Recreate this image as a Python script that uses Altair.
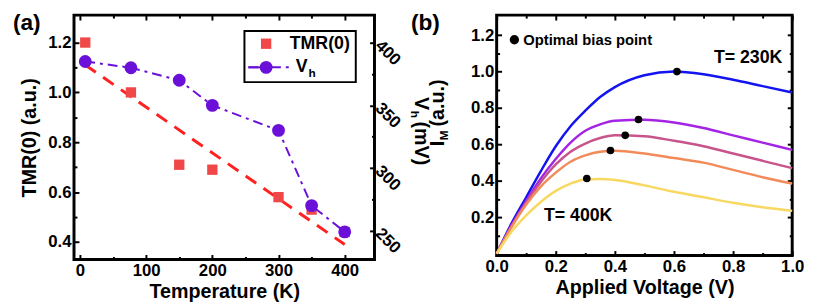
import altair as alt
import pandas as pd

FONT = "Liberation Sans"

# ---------- Panel (a) data ----------
temps = [8, 77, 150, 200, 300, 350, 400]
tmr = [1.20, 1.00, 0.71, 0.69, 0.58, 0.53, 0.44]
vh = [385, 380, 370, 350, 330, 270, 249]
fit_t = [8, 400]
fit_tmr = [1.11, 0.39]

# ---------- Panel (b) data ----------
volts = [0, 0.05, 0.1, 0.15, 0.2, 0.25, 0.3, 0.35, 0.4, 0.5, 0.6, 0.7, 0.8, 0.9, 1.0]
curve_names = ["230K", "c2", "c3", "c4", "400K"]
curve_colors = ["#1414f0", "#a424e6", "#c8548c", "#f28a5a", "#f8d862"]
curve_vals = [
    [0, 0.165, 0.31, 0.455, 0.59, 0.70, 0.785, 0.86, 0.915, 0.98, 1.0, 0.985, 0.955, 0.92, 0.885],
    [0, 0.155, 0.29, 0.415, 0.52, 0.61, 0.675, 0.71, 0.73, 0.735, 0.72, 0.69, 0.65, 0.61, 0.57],
    [0, 0.15, 0.28, 0.395, 0.49, 0.56, 0.605, 0.635, 0.65, 0.645, 0.62, 0.59, 0.55, 0.51, 0.47],
    [0, 0.145, 0.27, 0.37, 0.445, 0.505, 0.54, 0.56, 0.565, 0.55, 0.525, 0.50, 0.46, 0.42, 0.385],
    [0, 0.12, 0.21, 0.285, 0.345, 0.385, 0.408, 0.41, 0.405, 0.375, 0.34, 0.31, 0.28, 0.255, 0.235],
]
opt_v = [0.61, 0.48, 0.435, 0.385, 0.305]
opt_i = [1.0, 0.737, 0.65, 0.567, 0.413]

# tick positions
a_x_major = [0, 100, 200, 300, 400]
a_x_minor = [50, 150, 250, 350]
a_y_major = [0.4, 0.6, 0.8, 1.0, 1.2]
a_y_minor = [0.5, 0.7, 0.9, 1.1]
a_r_major = [250, 300, 350, 400]
a_r_minor = [275, 325, 375]
b_x_major = [0, 0.2, 0.4, 0.6, 0.8, 1.0]
b_x_minor = [0.1, 0.3, 0.5, 0.7, 0.9]
b_y_major = [0.2, 0.4, 0.6, 0.8, 1.0, 1.2]
b_y_minor = [0.1, 0.3, 0.5, 0.7, 0.9, 1.1]

# ---------- frames ----------
df_tmr = pd.DataFrame({"T": temps, "TMR": tmr})
df_vh = pd.DataFrame({"T": temps, "Vh": vh})
df_fit = pd.DataFrame({"T": fit_t, "TMR": fit_tmr})
rows = []
for name, vals in zip(curve_names, curve_vals):
    for v, i in zip(volts, vals):
        rows.append({"V": v, "I": i, "curve": name})
df_curves = pd.DataFrame(rows)
df_opt = pd.DataFrame({"V": opt_v, "I": opt_i})
one = pd.DataFrame({"a": [0]})

W_A, H_A = 305, 248
W_B, H_B = 300, 244
MAJ, MIN = 5, 3

sx_a = alt.Scale(domain=[-9, 445], nice=False, zero=False)
sy_a = alt.Scale(domain=[0.33, 1.31], nice=False, zero=False)
sr_a = alt.Scale(domain=[227, 422], nice=False, zero=False)
sx_b = alt.Scale(domain=[0, 1], nice=False)
sy_b = alt.Scale(domain=[-0.01, 1.31], nice=False, zero=False)


def tick_axis(orient, values, size, labels=False, **kw):
    return alt.Axis(orient=orient, values=values, tickSize=size, offset=-size, labels=labels,
                    domain=False, labelFlush=False, **kw)


def axis_layer(df, xf, xs, yf, ys, channel, axis):
    if channel == "x":
        enc = dict(x=alt.X(xf, scale=xs, axis=axis), y=alt.Y(yf, scale=ys, axis=None))
    else:
        enc = dict(x=alt.X(xf, scale=xs, axis=None), y=alt.Y(yf, scale=ys, axis=axis))
    return alt.Chart(df).mark_point(opacity=0).encode(**enc)


red = "#f04848"
purple = "#6a10d8"

# ---------- Panel (a) ----------
xa = alt.X("T:Q", scale=sx_a, axis=None)
ya = alt.Y("TMR:Q", scale=sy_a, axis=None)
yv = alt.Y("Vh:Q", scale=sr_a, axis=None)

fit_line = alt.Chart(df_fit).mark_line(color="#ff2020", strokeWidth=3, strokeDash=[13, 9]).encode(x=xa, y=ya)
squares = alt.Chart(df_tmr).mark_square(color=red, opacity=1, size=110).encode(x=xa, y=ya)
vh_line = alt.Chart(df_vh).mark_line(color=purple, strokeWidth=2, strokeDash=[10, 5, 3, 5]).encode(x=xa, y=yv)
vh_pts = alt.Chart(df_vh).mark_circle(color=purple, opacity=1, size=170).encode(x=xa, y=yv)

ax_a = [
    axis_layer(df_tmr, "T:Q", sx_a, "TMR:Q", sy_a, "x",
               tick_axis("bottom", a_x_major, MAJ, labels=True, title="Temperature (K)", format="d")),
    axis_layer(df_tmr, "T:Q", sx_a, "TMR:Q", sy_a, "x", tick_axis("bottom", a_x_minor, MIN, title=None)),
    axis_layer(df_tmr, "T:Q", sx_a, "TMR:Q", sy_a, "x", tick_axis("top", a_x_major, MAJ, title=None)),
    axis_layer(df_tmr, "T:Q", sx_a, "TMR:Q", sy_a, "x", tick_axis("top", a_x_minor, MIN, title=None)),
    axis_layer(df_tmr, "T:Q", sx_a, "TMR:Q", sy_a, "y",
               tick_axis("left", a_y_major, MAJ, labels=True, title="TMR(0) (a.u.)", format=".1f",
                         titlePadding=8)),
    axis_layer(df_tmr, "T:Q", sx_a, "TMR:Q", sy_a, "y", tick_axis("left", a_y_minor, MIN, title=None)),
    axis_layer(df_vh, "T:Q", sx_a, "Vh:Q", sr_a, "y",
               tick_axis("right", a_r_major, MAJ, labels=True, title=None, labelAngle=45,
                         labelAlign="left", labelBaseline="middle")),
    axis_layer(df_vh, "T:Q", sx_a, "Vh:Q", sr_a, "y", tick_axis("right", a_r_minor, MIN, title=None)),
]

leg_box = alt.Chart(one).mark_rect(fill="white", stroke="black", strokeWidth=2).encode(
    x=alt.value(173), x2=alt.value(286), y=alt.value(16), y2=alt.value(68))
leg_sq = alt.Chart(one).mark_square(color=red, opacity=1, size=110).encode(x=alt.value(195), y=alt.value(29))
leg_txt1 = alt.Chart(one).mark_text(text="TMR(0)", font=FONT, fontWeight="bold", fontSize=18,
                                    align="left", baseline="middle").encode(x=alt.value(219), y=alt.value(29))
leg_ln = alt.Chart(one).mark_rule(color=purple, strokeWidth=2, strokeDash=[10, 5, 3, 5]).encode(
    x=alt.value(177), x2=alt.value(218), y=alt.value(53))
leg_ln2 = alt.Chart(one).mark_rule(color=purple, strokeWidth=2).encode(
    x=alt.value(177), x2=alt.value(190), y=alt.value(53))
leg_pt = alt.Chart(one).mark_circle(color=purple, opacity=1, size=170).encode(x=alt.value(195), y=alt.value(53))
leg_v = alt.Chart(one).mark_text(text="V", font=FONT, fontWeight="bold", fontSize=18,
                                 align="left", baseline="middle").encode(x=alt.value(225), y=alt.value(53))
leg_h = alt.Chart(one).mark_text(text="h", font=FONT, fontWeight="bold", fontSize=12,
                                 align="left", baseline="middle").encode(x=alt.value(238), y=alt.value(59))
lab_a = alt.Chart(one).mark_text(text="(a)", font=FONT, fontWeight="bold", fontSize=23,
                                 align="left", baseline="middle").encode(x=alt.value(-62), y=alt.value(8))

panel_a = alt.layer(
    fit_line, squares, vh_line, vh_pts, *ax_a,
    leg_box, leg_sq, leg_txt1, leg_ln, leg_ln2, leg_pt, leg_v, leg_h, lab_a
).resolve_scale(y="independent").resolve_axis(x="independent", y="independent").properties(
    width=W_A, height=H_A)

# ---------- Panel (b) ----------
xb = alt.X("V:Q", scale=sx_b, axis=None)
yb = alt.Y("I:Q", scale=sy_b, axis=None)

curves = alt.Chart(df_curves).mark_line(strokeWidth=2.5, interpolate="monotone").encode(
    x=xb, y=yb,
    color=alt.Color("curve:N", scale=alt.Scale(domain=curve_names, range=curve_colors), legend=None),
    order=alt.Order("V:Q"))
opt = alt.Chart(df_opt).mark_circle(color="black", opacity=1, size=60).encode(x=xb, y=yb)

ann = pd.DataFrame({"V": [0.735, 0.16], "I": [1.075, 0.205], "t": ["T= 230K", "T= 400K"]})
ann_txt = alt.Chart(ann).mark_text(font=FONT, fontWeight="bold", fontSize=18, align="left",
                                   baseline="middle").encode(x=xb, y=yb, text="t:N")
legb_pt = alt.Chart(one).mark_circle(color="black", opacity=1, size=90).encode(x=alt.value(18), y=alt.value(25))
legb_txt = alt.Chart(one).mark_text(text="Optimal bias point", font=FONT, fontWeight="bold", fontSize=15,
                                    align="left", baseline="middle").encode(x=alt.value(27), y=alt.value(25))
lab_b = alt.Chart(one).mark_text(text="(b)", font=FONT, fontWeight="bold", fontSize=23,
                                 align="left", baseline="middle").encode(x=alt.value(-87), y=alt.value(8))

ax_b = [
    axis_layer(df_opt, "V:Q", sx_b, "I:Q", sy_b, "x",
               tick_axis("bottom", b_x_major, MAJ, labels=True, title="Applied Voltage (V)", format=".1f")),
    axis_layer(df_opt, "V:Q", sx_b, "I:Q", sy_b, "x", tick_axis("bottom", b_x_minor, MIN, title=None)),
    axis_layer(df_opt, "V:Q", sx_b, "I:Q", sy_b, "x", tick_axis("top", b_x_major, MAJ, title=None)),
    axis_layer(df_opt, "V:Q", sx_b, "I:Q", sy_b, "x", tick_axis("top", b_x_minor, MIN, title=None)),
    axis_layer(df_opt, "V:Q", sx_b, "I:Q", sy_b, "y",
               tick_axis("left", b_y_major, MAJ, labels=True, title=None, format=".1f")),
    axis_layer(df_opt, "V:Q", sx_b, "I:Q", sy_b, "y", tick_axis("left", b_y_minor, MIN, title=None)),
    axis_layer(df_opt, "V:Q", sx_b, "I:Q", sy_b, "y", tick_axis("right", b_y_major, MAJ, title=None)),
    axis_layer(df_opt, "V:Q", sx_b, "I:Q", sy_b, "y", tick_axis("right", b_y_minor, MIN, title=None)),
]

# y-axis title I_M (a.u.) built from pieces (rotated)
t_I = alt.Chart(one).mark_text(text="I", font=FONT, fontWeight="bold", fontSize=20, angle=270,
                               align="left", baseline="middle").encode(x=alt.value(-59), y=alt.value(133))
t_M = alt.Chart(one).mark_text(text="M", font=FONT, fontWeight="bold", fontSize=12, angle=270,
                               align="left", baseline="middle").encode(x=alt.value(-53), y=alt.value(127))
t_au = alt.Chart(one).mark_text(text="(a.u.)", font=FONT, fontWeight="bold", fontSize=20, angle=270,
                                align="left", baseline="middle").encode(x=alt.value(-59), y=alt.value(113))
# overlapping V_h (mV) text (rotated the other way)
t_V = alt.Chart(one).mark_text(text="V", font=FONT, fontWeight="bold", fontSize=20, angle=90,
                               align="left", baseline="middle").encode(x=alt.value(-77), y=alt.value(83))
t_h = alt.Chart(one).mark_text(text="h", font=FONT, fontWeight="bold", fontSize=12, angle=90,
                               align="left", baseline="middle").encode(x=alt.value(-83), y=alt.value(97))
t_mV = alt.Chart(one).mark_text(text="(mV)", font=FONT, fontWeight="bold", fontSize=20, angle=90,
                                align="left", baseline="middle").encode(x=alt.value(-77), y=alt.value(108))

panel_b = alt.layer(
    curves, opt, *ax_b, ann_txt, legb_pt, legb_txt, lab_b, t_I, t_M, t_au, t_V, t_h, t_mV
).resolve_axis(x="independent", y="independent").properties(width=W_B, height=H_B)

chart = alt.hconcat(panel_a, panel_b, spacing=2).configure_view(
    stroke="black", strokeWidth=3
).configure_axis(
    grid=False, tickColor="black", tickWidth=2,
    labelFont=FONT, labelFontWeight="bold", labelFontSize=17, labelColor="black",
    titleFont=FONT, titleFontWeight="bold", titleFontSize=20, titleColor="black",
    labelPadding=3
).properties(padding={"left": 3, "top": 0, "right": 0, "bottom": 0}, background="white")

chart.save("out.html", embed_options={"renderer": "svg", "actions": False})
